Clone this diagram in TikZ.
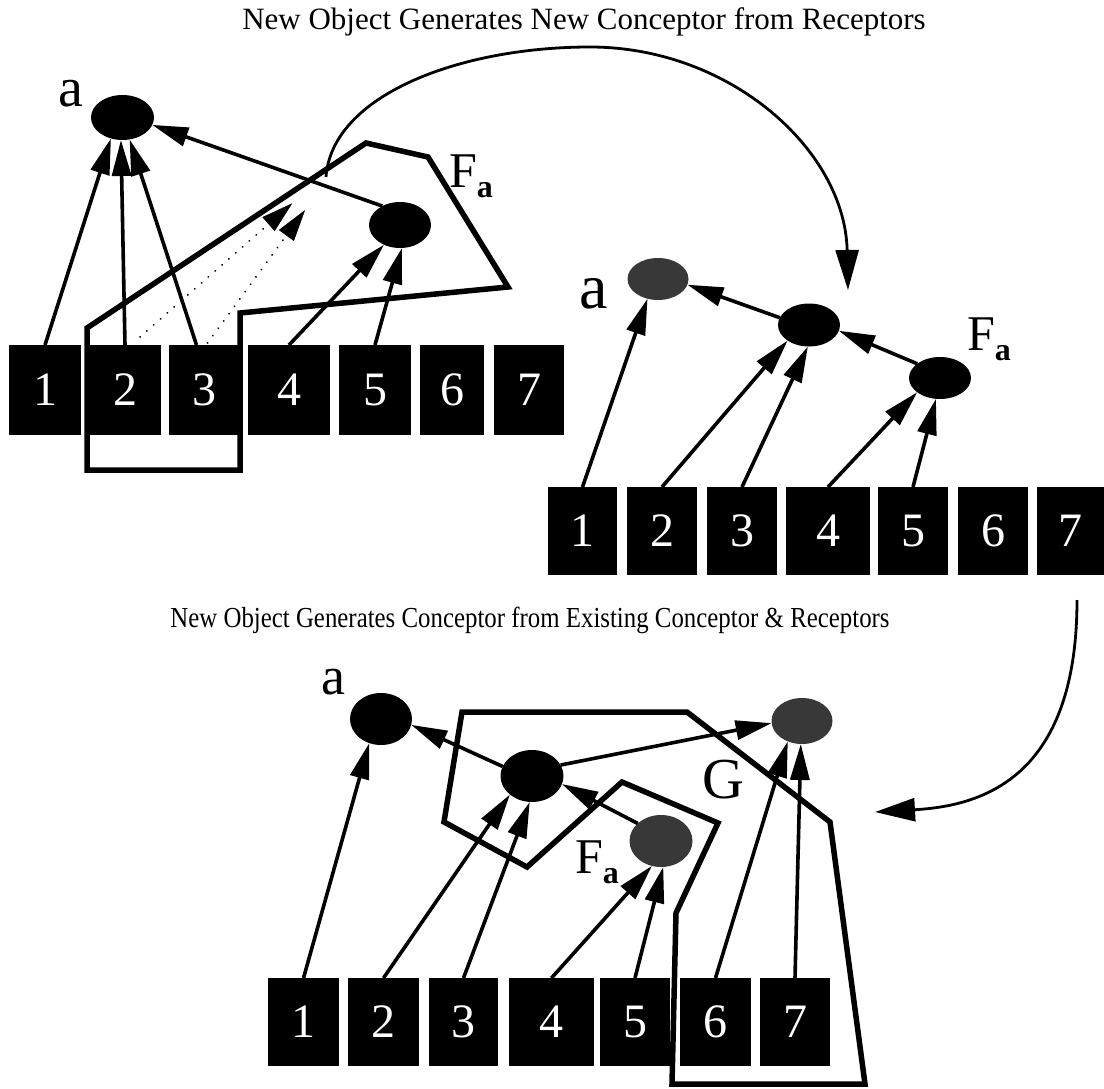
\documentclass[tikz,border=0pt]{standalone}
\usepackage{fontspec}
\setmainfont{Liberation Serif}
\usetikzlibrary{arrows.meta,shapes.geometric,calc}
\begin{document}
\begin{tikzpicture}[x=1pt,y=-1pt,
  rec/.style={rectangle,fill=black,text=white,inner sep=0pt,outer sep=0pt,font=\fontsize{48}{48}\selectfont},
  con/.style={ellipse,fill=black,inner sep=0pt,outer sep=0pt},
  gcon/.style={ellipse,fill=black!78,inner sep=0pt,outer sep=0pt},
  lnk/.style={line width=3.6pt,-{Triangle[length=36pt,width=19pt]}},
  poly/.style={line width=5.5pt,line join=miter},
  flow/.style={line width=2.8pt,-{Triangle[length=40pt,width=23pt]}},
  dots/.style={line width=2pt,line cap=round,dash pattern=on 0.1pt off 9pt,-{Triangle[length=38pt,width=22pt,fill=black,color=white,line width=1.2pt]}},
  lab/.style={inner sep=0pt,outer sep=0pt},
  fl/.style={anchor=base west,inner sep=0pt,outer sep=0pt,font=\fontsize{50}{50}\selectfont}]
\useasboundingbox (0,0) rectangle (1104,1089);

% titles
\node[lab,font=\fontsize{31}{31}\selectfont] (t1) at (584,22) {New Object Generates New Conceptor from Receptors};
\node[lab,font=\fontsize{29}{29}\selectfont] (t2) at (530,620) {\scalebox{0.857}[1]{New Object Generates Conceptor from Existing Conceptor \& Receptors}};

% ---------------- top-left panel
\foreach \n/\cx/\w in {1/45/72,2/125/72,3/204.5/71,4/289/82,5/375/72,6/452/64,7/529/70}
  \node[rec,minimum width=\w pt,minimum height=90pt] (L\n) at (\cx,390) {\n};
\node[con,minimum width=63pt,minimum height=45pt] (La) at (122.5,117.5) {};
\node[con,minimum width=62pt,minimum height=46pt] (LF) at (400,225) {};
\node[lab,font=\fontsize{56}{56}\selectfont] (Lal) at (71,94) {a};
\node[fl] (LFl) at (449,188) {F\raisebox{-10pt}{\fontsize{32}{32}\selectfont\bfseries a}};

\coordinate (d1) at (296,200);
\coordinate (d2) at (308,206);
\draw[dots] ([xshift=15pt,yshift=8pt]L2.north) -- (d1);
\draw[dots] ([xshift=3pt,yshift=2pt]L3.north) -- (d2);

\draw[lnk] (L1.north) -- (La.-119);
\draw[lnk] (L2.north) -- (La.-94);
\draw[lnk] ([xshift=-8pt]L3.north) -- (La.-72);
\draw[lnk] (LF.133) -- (La.-14);
\draw[lnk] (L4.north) -- (LF.-129);
\draw[lnk] (L5.north) -- (LF.-85);

\draw[poly] (87,328) -- (366,143) -- (428,157) -- (508,287) -- (240,313) -- (240,470) -- (87,470) -- cycle;

% curved arrow top
\coordinate (c1s) at (326,177);
\coordinate (c1e) at (848,290);
\draw[flow] (c1s) .. controls (332,95) and (460,47) .. (590,47) .. controls (730,47) and (845,150) .. (c1e);

% ---------------- top-right panel
\foreach \n/\cx/\w in {1/582.5/69,2/662/70,3/742/70,4/828/84,5/913/70,6/993/70,7/1070.5/67}
  \node[rec,minimum width=\w pt,minimum height=88pt] (R\n) at (\cx,531) {\n};
\node[gcon,minimum width=61pt,minimum height=42pt] (Ra) at (658,279) {};
\node[con,minimum width=62pt,minimum height=43pt] (Rm) at (809,325) {};
\node[con,minimum width=62pt,minimum height=42pt] (RF) at (940,378) {};
\node[lab,font=\fontsize{64}{64}\selectfont] (Ral) at (594,294) {a};
\node[fl] (RFl) at (967,350) {F\raisebox{-10pt}{\fontsize{32}{32}\selectfont\bfseries a}};

\draw[lnk] (R1.north) -- (Ra.-118);
\draw[lnk] (Rm.166) -- (Ra.-11);
\draw[lnk] (RF.148) -- (Rm.-11);
\draw[lnk] (R2.north) -- (Rm.-144);
\draw[lnk] (R3.north) -- (Rm.-93);
\draw[lnk] (R4.north) -- (RF.-148);
\draw[lnk] (R5.north) -- (RF.-101);

% curved arrow right
\coordinate (c2s) at (1077,600);
\coordinate (c2e) at (875,812);
\draw[flow] (c2s) .. controls (1077,780) and (980,806) .. (c2e);

% ---------------- bottom panel
\foreach \n/\cx/\w in {1/303.5/71,2/383.5/71,3/463.5/69,4/551.5/85,5/635/70,6/715.5/71,7/795/70}
  \node[rec,minimum width=\w pt,minimum height=88pt] (B\n) at (\cx,1022) {\n};
\node[con,minimum width=62pt,minimum height=52pt] (Ba) at (381,719) {};
\node[con,minimum width=63pt,minimum height=52pt] (Bm) at (532,776) {};
\node[gcon,minimum width=63pt,minimum height=52pt] (BF) at (661,841) {};
\node[gcon,minimum width=61pt,minimum height=46pt] (BG) at (802,721) {};
\node[lab,font=\fontsize{54}{54}\selectfont] (Bal) at (333,682) {a};
\node[fl] (BFl) at (575,873) {F\raisebox{-10pt}{\fontsize{32}{32}\selectfont\bfseries a}};
\node[anchor=base west,inner sep=0pt,font=\fontsize{58}{58}\selectfont] (BGl) at (702,798) {G};

\draw[lnk] (B1.north) -- (Ba.-116);
\draw[lnk] (Bm.162) -- (Ba.-11);
\draw[lnk] (Bm.21) -- (BG.-176);
\draw[lnk] (BF.143) -- (Bm.-15);
\draw[lnk] (B2.north) -- (Bm.-140);
\draw[lnk] (B3.north) -- (Bm.-95);
\draw[lnk] (B4.north) -- (BF.-110);
\draw[lnk] (B5.north) -- (BF.-85);
\draw[lnk] (B6.north) -- (BG.-125);
\draw[lnk] (B7.north) -- (BG.-93);

\draw[poly] (444,822) -- (462,712) -- (687,712) -- (830,822) -- (865,1084) -- (672,1084) -- (676,913) -- (718,823) -- (622,782) -- (527,867) -- cycle;
\end{tikzpicture}
\end{document}
